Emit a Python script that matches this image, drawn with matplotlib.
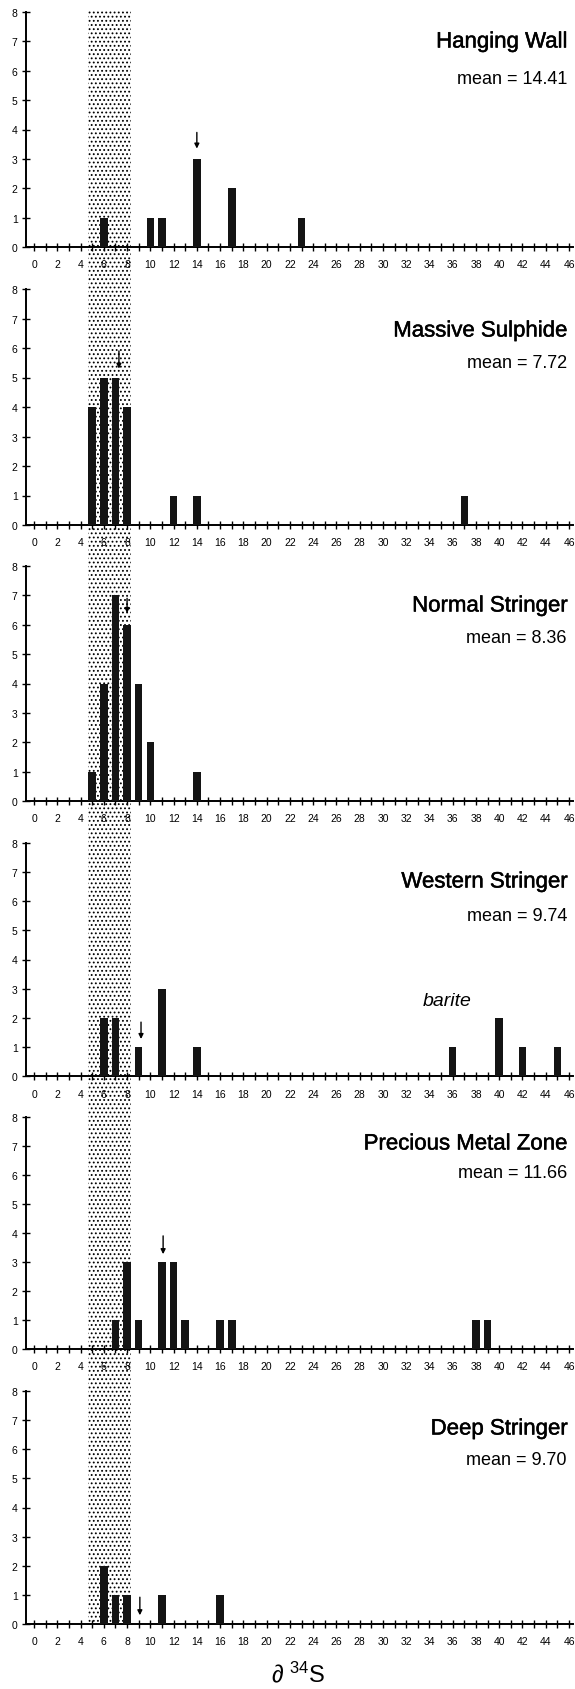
"""
Sulphur isotope histograms (d34S) for six ore zones, stacked vertically,
with the shared stippled band across all panels and the mean arrows.
"""
import matplotlib
matplotlib.use("Agg")  # no display here
import matplotlib.pyplot as plt
import matplotlib.patheffects as pe
from matplotlib.ticker import MultipleLocator

plt.rcParams["font.family"] = ["Liberation Sans", "DejaVu Sans"]
plt.rcParams["mathtext.fontset"] = "custom"
plt.rcParams["mathtext.rm"] = "Liberation Sans"
plt.rcParams["mathtext.default"] = "regular"
plt.rcParams["hatch.linewidth"] = 0.8

# ---- data ----
zones = ["Hanging Wall", "Massive Sulphide", "Normal Stringer",
         "Western Stringer", "Precious Metal Zone", "Deep Stringer"]
means = ["14.41", "7.72", "8.36", "9.74", "11.66", "9.70"]

hanging_wall_x = [6, 10, 11, 14, 17, 23]
hanging_wall_n = [1, 1, 1, 3, 2, 1]
massive_sulphide_x = [5, 6, 7, 8, 12, 14, 37]
massive_sulphide_n = [4, 5, 5, 4, 1, 1, 1]
normal_stringer_x = [5, 6, 7, 8, 9, 10, 14]
normal_stringer_n = [1, 4, 7, 6, 4, 2, 1]
western_stringer_x = [6, 7, 9, 11, 14, 36, 40, 42, 45]
western_stringer_n = [2, 2, 1, 3, 1, 1, 2, 1, 1]
precious_metal_x = [7, 8, 9, 11, 12, 13, 16, 17, 38, 39]
precious_metal_n = [1, 3, 1, 3, 3, 1, 1, 1, 1, 1]
deep_stringer_x = [6, 7, 8, 11, 16]
deep_stringer_n = [2, 1, 1, 1, 1]

# mean arrows: x position, tail and head heights
arrow_x = [14.0, 7.3, 8.0, 9.2, 11.1, 9.1]
arrow_tail = [3.9, 5.9, 6.9, 1.85, 3.9, 0.92]
arrow_head = [3.35, 5.3, 6.4, 1.27, 3.27, 0.3]

barite_x, barite_y = 35.5, 2.6
band_lo, band_hi = 4.65, 8.35   # stippled band

series = [
    (hanging_wall_x, hanging_wall_n),
    (massive_sulphide_x, massive_sulphide_n),
    (normal_stringer_x, normal_stringer_n),
    (western_stringer_x, western_stringer_n),
    (precious_metal_x, precious_metal_n),
    (deep_stringer_x, deep_stringer_n),
]

# ---- layout (pixels) ----
W, H = 575, 1690
XLIM = (-0.69, 46.3)
ax_left, ax_right = 26, 572.5
panel_top = [13, 290, 567, 844, 1118, 1392]
panel_zero = [248, 526, 802, 1077, 1350, 1625]
title_y = [43, 332, 607, 883, 1145, 1430]
mean_y = [80, 363, 639, 917, 1173, 1461]


def fx(px):
    return px / W


def fy(py):
    return 1 - py / H


fig = plt.figure(figsize=(W / 100, H / 100), dpi=100)

# stippled band running down through every panel
bg = fig.add_axes([fx(ax_left), fy(panel_zero[-1]), fx(ax_right - ax_left),
                   (panel_zero[-1] - 12) / H], zorder=0)
bg.set_xlim(*XLIM)
bg.set_ylim(0, 1)
bg.axvspan(band_lo, band_hi, facecolor="white", edgecolor="black",
           hatch="....", linewidth=0)
bg.axis("off")

for i, (xs, ns) in enumerate(series):
    ax = fig.add_axes([fx(ax_left), fy(panel_zero[i]), fx(ax_right - ax_left),
                       (panel_zero[i] - panel_top[i]) / H], zorder=2)
    ax.set_facecolor("none")
    ax.bar(xs, ns, width=0.65, color="#141414", zorder=3)
    ax.set_xlim(*XLIM)
    ax.set_ylim(0, 8)

    for s in ("top", "right"):
        ax.spines[s].set_visible(False)
    for s in ("left", "bottom"):
        ax.spines[s].set_linewidth(1.4)

    ax.xaxis.set_major_locator(MultipleLocator(2))
    ax.xaxis.set_minor_locator(MultipleLocator(1))
    ax.yaxis.set_major_locator(MultipleLocator(1))
    ax.tick_params(axis="both", which="both", direction="inout",
                   length=6, width=1.0)
    ax.tick_params(axis="x", labelsize=7.5, pad=6)
    ax.tick_params(axis="y", labelsize=7.5, pad=3)

    ax.annotate("", xy=(arrow_x[i], arrow_head[i]),
                xytext=(arrow_x[i], arrow_tail[i]),
                arrowprops=dict(arrowstyle="-|>", color="black", lw=1.0,
                                mutation_scale=7, shrinkA=0, shrinkB=0),
                zorder=4)

    fig.text(fx(568), fy(title_y[i]), zones[i], ha="right", va="center",
             fontsize=16,
             path_effects=[pe.withStroke(linewidth=0.35, foreground="black")])
    fig.text(fx(567), fy(mean_y[i]), f"mean = {means[i]}", ha="right",
             va="center", fontsize=13)

    if zones[i] == "Western Stringer":
        ax.text(barite_x, barite_y, "barite", ha="center", va="center",
                fontsize=14, style="italic")

fig.text(fx(298), fy(1675), "∂ $^{34}$S", ha="center", va="center",
         fontsize=17)

fig.savefig("out.png", dpi=100)
